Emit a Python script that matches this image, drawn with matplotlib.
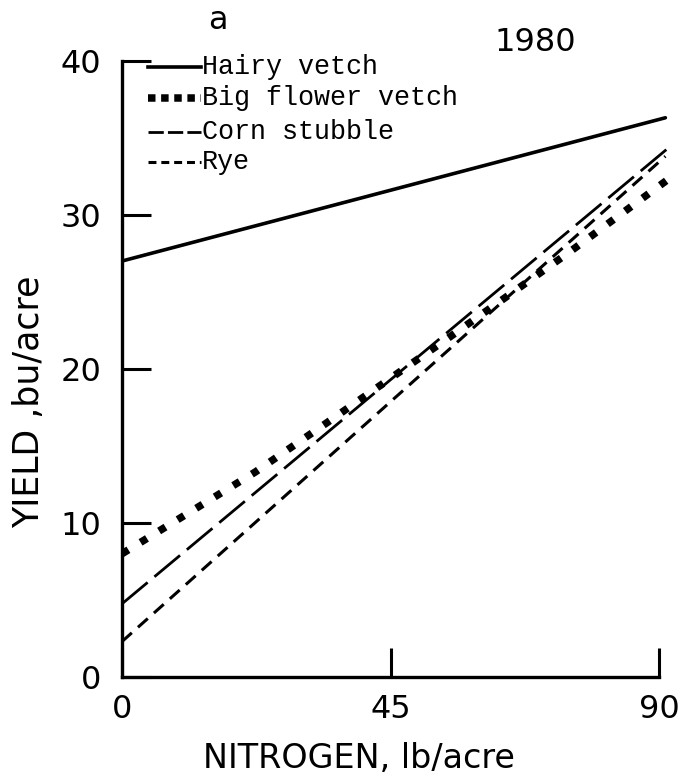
#!/usr/bin/env python3
# -*- coding: utf-8 -*-
import matplotlib
matplotlib.use("Agg")
import numpy as np
import matplotlib.pyplot as plt

# values (x = nitrogen lb/acre, y = yield bu/acre)
hairy_x = [0, 91]
hairy_y = [27.0, 36.3]

bigflower_x = [0, 22.3, 34.3, 48.7, 55, 75, 92.5]
bigflower_y = [8.0, 13.3, 16.5, 20.4, 22.1, 27.6, 32.6]

corn_x = [0, 92.3]
corn_y = [4.75, 34.6]

rye_x = [0, 91]
rye_y = [2.3, 33.8]

labels = ["Hairy vetch", "Big flower vetch", "Corn stubble", "Rye"]
x_ticks = [0, 45, 90]
y_ticks = [0, 10, 20, 30, 40]

fig = plt.figure(figsize=(6.87, 7.81), dpi=100)
ax = fig.add_axes([0.1776, 0.1332, 0.817, 0.789])

ax.plot(hairy_x, hairy_y, color="black", lw=2.6, solid_capstyle="round")
ax.plot(bigflower_x, bigflower_y, color="black", lw=5.4, linestyle=(0, (1, 1.9)))
ax.plot(corn_x, corn_y, color="black", lw=2.0, linestyle=(0, (12, 3.2)))
ax.plot(rye_x, rye_y, color="black", lw=2.2, linestyle=(0, (4.3, 2.7)))

ax.set_xlim(0, 94)
ax.set_ylim(0, 40)
for s in ["top", "right"]:
    ax.spines[s].set_visible(False)
ax.spines["left"].set_bounds(0, 40)
ax.spines["bottom"].set_bounds(0, 90)
ax.spines["left"].set_linewidth(2.4)
ax.spines["bottom"].set_linewidth(2.4)

ax.set_xticks(x_ticks)
ax.set_yticks(y_ticks)
ax.set_xticklabels([str(v) for v in x_ticks])
ax.set_yticklabels([str(v) for v in y_ticks])
ax.tick_params(direction="in", length=21, width=2.2, labelsize=23)
ax.tick_params(axis="y", pad=15)
ax.tick_params(axis="x", pad=12)

fig.text(0.523, 0.017, "NITROGEN, lb/acre", fontsize=24, ha="center", va="baseline")
fig.text(0.042, 0.485, "YIELD ,bu/acre", fontsize=25, rotation=90, ha="center", va="center")
fig.text(0.317, 0.974, "a", fontsize=23, ha="center", va="center")
fig.text(0.779, 0.946, "1980", fontsize=23, ha="center", va="center")

# hand-made legend in typewriter font
styles = [dict(lw=2.6), dict(lw=5.4, linestyle=(0, (1, 0.75))),
          dict(lw=2.0, linestyle=(0, (5.5, 1.5))), dict(lw=2.2, linestyle=(0, (2.6, 1.6)))]
ys = [0.914, 0.874, 0.831, 0.792]
for lab, st, yy in zip(labels, styles, ys):
    fig.add_artist(plt.Line2D([0.215, 0.292], [yy, yy], color="black",
                              transform=fig.transFigure, **st))
    fig.text(0.294, yy, lab, fontsize=19.3, family="Liberation Mono",
             ha="left", va="center")

fig.savefig("out.png", dpi=100)
